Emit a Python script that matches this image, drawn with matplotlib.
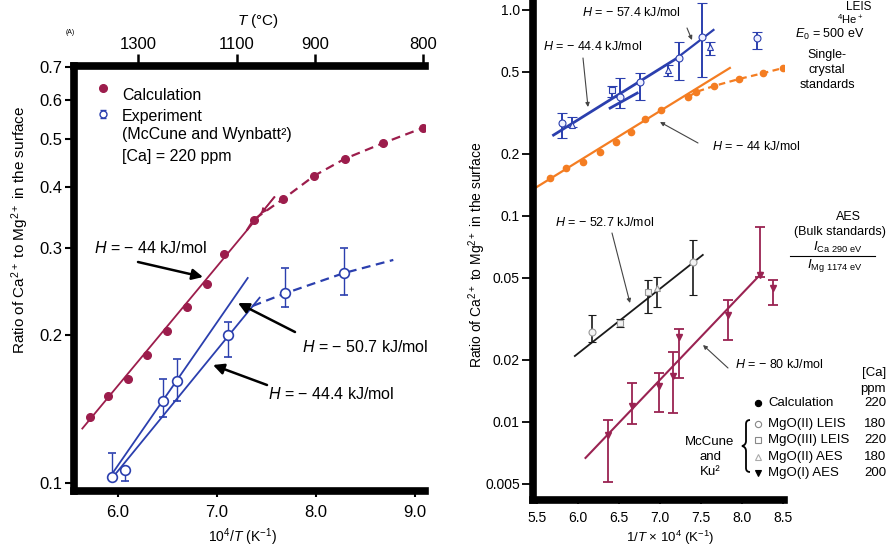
# surface segregation of Ca in MgO: calc vs experiment, two panels

import numpy as np
import matplotlib
matplotlib.use("Agg")
import matplotlib.pyplot as plt
from matplotlib.ticker import NullLocator
from matplotlib.path import Path
from matplotlib.patches import PathPatch

plt.rcParams['font.family'] = ['Liberation Sans', 'DejaVu Sans']
plt.rcParams['mathtext.fontset'] = 'custom'
plt.rcParams['mathtext.rm'] = 'Liberation Sans'
plt.rcParams['mathtext.it'] = 'Liberation Sans:italic'

# ---- panel A (left)
calc_x = [5.72, 5.90, 6.10, 6.29, 6.49, 6.70, 6.90, 7.07, 7.37, 7.67, 7.98, 8.29, 8.68, 9.08]
calc_y = [0.136, 0.150, 0.163, 0.182, 0.204, 0.228, 0.254, 0.292, 0.343, 0.378, 0.421, 0.456, 0.491, 0.527]
calc_fit_x = [5.64, 7.58]
calc_fit_y = [0.129, 0.381]
calc_dash_x = [7.30, 7.37, 7.67, 7.98, 8.29, 8.68, 9.08, 9.12]
calc_dash_y = [0.326, 0.343, 0.378, 0.421, 0.456, 0.491, 0.527, 0.530]

exp_x = [5.94, 6.07, 6.45, 6.60, 7.11, 7.69, 8.28]
exp_y = [0.103, 0.106, 0.147, 0.161, 0.200, 0.243, 0.267]
exp_lo = [0.103, 0.101, 0.136, 0.147, 0.180, 0.228, 0.241]
exp_hi = [0.115, 0.106, 0.163, 0.179, 0.212, 0.274, 0.300]
fit507_x = [5.95, 7.31]
fit507_y = [0.105, 0.261]
fit444_x = [5.97, 7.43]
fit444_y = [0.104, 0.238]
exp_dash_x = [7.36, 7.69, 8.28, 8.78]
exp_dash_y = [0.229, 0.243, 0.267, 0.284]

yA_ticks = [0.1, 0.2, 0.3, 0.4, 0.5, 0.6, 0.7]
yA_labels = ['0.1', '0.2', '0.3', '0.4', '0.5', '0.6', '0.7']
xA_ticks = [6.0, 7.0, 8.0, 9.0]
xA_labels = ['6.0', '7.0', '8.0', '9.0']
tC_pos = [6.20, 7.20, 7.99, 9.08]
tC_labels = ['1300', '1100', '900', '800']

# ---- panel B (right)
orange_x = [5.66, 5.85, 6.06, 6.27, 6.46, 6.65, 6.82, 7.01, 7.34, 7.44, 7.66, 7.96, 8.26, 8.50]
orange_y = [0.153, 0.171, 0.183, 0.205, 0.229, 0.256, 0.296, 0.327, 0.378, 0.400, 0.428, 0.462, 0.494, 0.523]
orange_fit_x = [5.48, 7.85]
orange_fit_y = [0.137, 0.523]
orange_dash_x = [7.34, 7.44, 7.66, 7.96, 8.26, 8.50, 8.53]
orange_dash_y = [0.378, 0.400, 0.428, 0.462, 0.494, 0.523, 0.526]

leis_x = [5.80, 5.93, 6.41, 6.51, 6.76, 7.10, 7.23, 7.51, 7.61, 8.18]
leis_y = [0.283, 0.277, 0.409, 0.378, 0.447, 0.511, 0.585, 0.740, 0.661, 0.731]
leis_lo = [0.239, 0.271, 0.378, 0.334, 0.366, 0.478, 0.457, 0.473, 0.605, 0.647]
leis_hi = [0.316, 0.303, 0.428, 0.468, 0.494, 0.541, 0.700, 1.08, 0.700, 0.782]
leis_mk = ['o', '^', 's', 'o', 'o', '^', 'o', 'o', '^', 'o']
leis444_x = [5.70, 7.21]
leis444_y = [0.247, 0.585]
leis_par_x = [6.39, 6.72]
leis_par_y = [0.334, 0.395]
leis574_x = [7.22, 7.65]
leis574_y = [0.591, 0.80]

bulk_x = [6.17, 6.51, 6.85, 6.96, 7.40]
bulk_y = [0.0273, 0.0303, 0.0428, 0.0447, 0.0598]
bulk_lo = [0.0245, 0.0290, 0.0338, 0.0362, 0.0414]
bulk_hi = [0.0331, 0.0316, 0.0489, 0.0506, 0.0765]
bulk_mk = ['o', 's', 's', '^', 'o']
bulk_fit_x = [5.96, 7.52]
bulk_fit_y = [0.0209, 0.0647]

mgo1_x = [6.37, 6.66, 6.98, 7.16, 7.23, 7.83, 8.22, 8.38]
mgo1_y = [0.00865, 0.0120, 0.0150, 0.0167, 0.0259, 0.0331, 0.0517, 0.0447]
mgo1_lo = [0.00512, 0.00978, 0.0112, 0.0111, 0.0164, 0.0250, 0.0506, 0.0370]
mgo1_hi = [0.0102, 0.0155, 0.0173, 0.0219, 0.0283, 0.0391, 0.0886, 0.0489]
mgo1_fit_x = [6.09, 8.24]
mgo1_fit_y = [0.00669, 0.0529]

yB_ticks = [1.0, 0.5, 0.2, 0.1, 0.05, 0.02, 0.01, 0.005]
yB_labels = ['1.0', '0.5', '0.2', '0.1', '0.05', '0.02', '0.01', '0.005']
xB_ticks = [5.5, 6.0, 6.5, 7.0, 7.5, 8.0, 8.5]
xB_labels = ['5.5', '6.0', '6.5', '7.0', '7.5', '8.0', '8.5']

RED = '#9c1d4c'
BLUE = '#2b3fae'
ORANGE = '#f47d22'
MAROON = '#9a2352'

W, H = 891, 548
fig = plt.figure(figsize=(W / 100, H / 100), dpi=100)


def box(l, t, r, b):
    return [l / W, 1 - b / H, (r - l) / W, (b - t) / H]


def err(y, lo, hi):
    y = np.array(y)
    return [y - np.array(lo), np.array(hi) - y]


axA = fig.add_axes(box(74, 66, 425, 491))
axB = fig.add_axes(box(533, 0, 784, 500))

# left panel
axA.set_yscale('log')
axA.plot(calc_fit_x, calc_fit_y, color=RED, lw=1.3)
axA.plot(calc_dash_x, calc_dash_y, color=RED, lw=1.6, ls=(0, (4, 2.5)))
axA.plot(calc_x, calc_y, 'o', color=RED, ms=5.5)
axA.plot(fit507_x, fit507_y, color=BLUE, lw=1.3)
axA.plot(fit444_x, fit444_y, color=BLUE, lw=1.3)
axA.plot(exp_dash_x, exp_dash_y, color=BLUE, lw=1.6, ls=(0, (4, 2.5)))
axA.errorbar(exp_x, exp_y, yerr=err(exp_y, exp_lo, exp_hi), fmt='o', mfc='white', mec=BLUE,
             ecolor=BLUE, ms=7, mew=1.2, elinewidth=1, capsize=3, clip_on=False)
axA.set_xlim(5.556, 9.10)
axA.set_ylim(0.0963, 0.704)
axA.spines['right'].set_visible(False)
for s in ['left', 'bottom', 'top']:
    axA.spines[s].set_linewidth(5.5)
axA.set_yticks(yA_ticks, labels=yA_labels)
axA.yaxis.set_minor_locator(NullLocator())
axA.set_xticks(xA_ticks, labels=xA_labels)
axA.tick_params(axis='y', length=6.5, width=1.5, pad=2, labelsize=12)
axA.tick_params(axis='x', length=4, width=1.5, pad=6, labelsize=12)
secA = axA.secondary_xaxis('top')
secA.set_xticks(tC_pos, labels=tC_labels)
secA.spines['top'].set_linewidth(0)
secA.tick_params(direction='out', color='black', length=9, width=1.8, pad=1, labelsize=12)

# right panel
axB.set_yscale('log')
axB.plot(orange_fit_x, orange_fit_y, color=ORANGE, lw=1.6)
axB.plot(orange_dash_x, orange_dash_y, color=ORANGE, lw=1.6, ls=(0, (3, 2)))
axB.plot(orange_x, orange_y, 'o', color=ORANGE, ms=4.5)
axB.plot(leis444_x, leis444_y, color=BLUE, lw=2)
axB.plot(leis_par_x, leis_par_y, color=BLUE, lw=2)
axB.plot(leis574_x, leis574_y, color=BLUE, lw=1.6)
for i in range(len(leis_x)):
    axB.errorbar([leis_x[i]], [leis_y[i]], yerr=err([leis_y[i]], [leis_lo[i]], [leis_hi[i]]),
                 fmt=leis_mk[i], mfc='#eef0ff', mec=BLUE, ecolor=BLUE, ms=5, mew=0.8,
                 elinewidth=1.4, capsize=3.5, capthick=1.4)
axB.plot(bulk_fit_x, bulk_fit_y, color='#1a1a1a', lw=1.3)
for i in range(len(bulk_x)):
    axB.errorbar([bulk_x[i]], [bulk_y[i]], yerr=err([bulk_y[i]], [bulk_lo[i]], [bulk_hi[i]]),
                 fmt=bulk_mk[i], mfc='#f2f2f2', mec='#999999', ecolor='#1a1a1a', ms=5, mew=0.8,
                 elinewidth=1.2, capsize=3, capthick=1.2)
axB.plot(mgo1_fit_x, mgo1_fit_y, color=MAROON, lw=1.5)
axB.errorbar(mgo1_x, mgo1_y, yerr=err(mgo1_y, mgo1_lo, mgo1_hi), fmt='v', color=MAROON,
             ms=5, elinewidth=1.3, capsize=3.5, capthick=1.3)
axB.set_xlim(5.45, 8.51)
axB.set_ylim(0.00418, 1.118)
axB.spines['right'].set_visible(False)
axB.spines['top'].set_visible(False)
for s in ['left', 'bottom']:
    axB.spines[s].set_linewidth(5.5)
axB.set_yticks(yB_ticks, labels=yB_labels)
axB.yaxis.set_minor_locator(NullLocator())
axB.set_xticks(xB_ticks, labels=xB_labels)
axB.tick_params(axis='y', length=8, width=1.3, pad=1.5, labelsize=10)
axB.tick_params(axis='x', length=3, width=1.3, pad=5, labelsize=10)

# overlay in pixel coords for text and leaders
ov = fig.add_axes([0, 0, 1, 1], facecolor='none')
ov.set_xlim(0, W)
ov.set_ylim(H, 0)
ov.axis('off')

ov.text(70, 33, '(A)', fontsize=5, ha='center', va='center')
ov.text(258, 21, '$T$ (°C)', fontsize=11, ha='center', va='center')
ov.text(242, 537, '10$^4$/$T$ (K$^{-1}$)', fontsize=10, ha='center', va='center')
ov.text(20, 230, 'Ratio of Ca$^{2+}$ to Mg$^{2+}$ in the surface', fontsize=11,
        rotation=90, ha='center', va='center')
ov.text(670, 538, '1/$T$ × 10$^4$ (K$^{-1}$)', fontsize=9.5, ha='center', va='center')
ov.text(477, 255, 'Ratio of Ca$^{2+}$ to Mg$^{2+}$ in the surface', fontsize=10,
        rotation=90, ha='center', va='center')

# left legend
ov.plot([103], [88], 'o', color=RED, ms=5.5)
ov.errorbar([103], [114], yerr=[[4], [4]], fmt='o', mfc='white', mec=BLUE, ecolor=BLUE,
            ms=5, mew=1, capsize=2.5, elinewidth=1)
ov.text(122, 95, 'Calculation', fontsize=11.5, va='center')
ov.text(122, 117, 'Experiment', fontsize=11.5, va='center')
ov.text(122, 135, '(McCune and Wynbatt²)', fontsize=11.5, va='center')
ov.text(122, 157, '[Ca] = 220 ppm', fontsize=11.5, va='center')

# left annotations
bigarrow = dict(arrowstyle='-|>', color='black', lw=1.8, mutation_scale=16, shrinkA=0, shrinkB=0)
ov.text(94, 248, '$H$ = − 44 kJ/mol', fontsize=11.5, va='center')
ov.annotate('', xy=(203, 277), xytext=(138, 262), arrowprops=bigarrow)
ov.text(302, 347, '$H$ = − 50.7 kJ/mol', fontsize=11.5, va='center')
ov.annotate('', xy=(238, 303), xytext=(295, 332), arrowprops=bigarrow)
ov.text(268, 394, '$H$ = − 44.4 kJ/mol', fontsize=11.5, va='center')
ov.annotate('', xy=(213, 365), xytext=(267, 385), arrowprops=bigarrow)
ov.annotate('', xy=(261, 214), xytext=(274, 197),
            arrowprops=dict(arrowstyle='-|>', color=RED, lw=1, mutation_scale=8, shrinkA=0, shrinkB=0))

# right annotations
thin = dict(arrowstyle='-|>', color='#444444', lw=0.8, mutation_scale=6, shrinkA=0, shrinkB=0)
ov.text(582, 13, '$H$ = − 57.4 kJ/mol', fontsize=9, va='center')
ov.annotate('', xy=(692, 40), xytext=(687, 28), arrowprops=thin)
ov.text(543, 47, '$H$ = − 44.4 kJ/mol', fontsize=9, va='center')
ov.annotate('', xy=(588, 107), xytext=(583, 58), arrowprops=thin)
ov.text(712, 147, '$H$ = − 44 kJ/mol', fontsize=9, va='center')
ov.annotate('', xy=(660, 122), xytext=(698, 143), arrowprops=thin)
ov.text(555, 222, '$H$ = − 52.7 kJ/mol', fontsize=9, va='center')
ov.annotate('', xy=(630, 303), xytext=(612, 233), arrowprops=thin)
ov.text(735, 365, '$H$ = − 80 kJ/mol', fontsize=9, va='center')
ov.annotate('', xy=(703, 345), xytext=(728, 368), arrowprops=thin)

ov.text(859, 7, 'LEIS', fontsize=8.5, ha='center', va='center')
ov.text(850, 19, '$^4$He$^+$', fontsize=8, ha='center', va='center')
ov.text(830, 34, '$E_0$ = 500 eV', fontsize=9, ha='center', va='center')
ov.text(827, 55, 'Single-', fontsize=9, ha='center', va='center')
ov.text(827, 70, 'crystal', fontsize=9, ha='center', va='center')
ov.text(827, 85, 'standards', fontsize=9, ha='center', va='center')

ov.text(848, 217, 'AES', fontsize=9, ha='center', va='center')
ov.text(840, 232, '(Bulk standards)', fontsize=9, ha='center', va='center')
ov.text(838, 247, '$I_{\\mathrm{Ca\\ 290\\ eV}}$', fontsize=9.5, ha='center', va='center')
ov.plot([790, 875], [256, 256], color='black', lw=0.8)
ov.text(835, 265, '$I_{\\mathrm{Mg\\ 1174\\ eV}}$', fontsize=9.5, ha='center', va='center')

# right legend
ov.text(886, 373, '[Ca]', fontsize=9.5, ha='right', va='center')
ov.text(886, 389, 'ppm', fontsize=9.5, ha='right', va='center')
leg_names = ['Calculation', 'MgO(II) LEIS', 'MgO(III) LEIS', 'MgO(II) AES', 'MgO(I) AES']
leg_ppm = ['220', '180', '220', '180', '200']
leg_y = [403, 424, 440, 457, 473]
leg_mk = ['o', 'o', 's', '^', 'v']
leg_fill = ['black', 'white', 'white', 'white', 'black']
leg_edge = ['black', '#888888', '#888888', '#aaaaaa', 'black']
for i in range(5):
    ov.plot([758], [leg_y[i]], leg_mk[i], mfc=leg_fill[i], mec=leg_edge[i], ms=4.5, mew=0.8)
    ov.text(768, leg_y[i], leg_names[i], fontsize=9.5, va='center')
    ov.text(886, leg_y[i], leg_ppm[i], fontsize=9.5, ha='right', va='center')

# curly brace grouping the McCune and Ku rows
bx, bt, bm, bb = 746, 420, 446, 472
brace = Path([(bx + 4, bt), (bx, bt), (bx, bt + 4), (bx, bm - 5), (bx, bm - 1), (bx - 4, bm),
              (bx, bm + 1), (bx, bm + 5), (bx, bb - 4), (bx, bb), (bx + 4, bb)],
             [Path.MOVETO, Path.CURVE3, Path.CURVE3, Path.LINETO, Path.CURVE3, Path.CURVE3,
              Path.CURVE3, Path.CURVE3, Path.LINETO, Path.CURVE3, Path.CURVE3])
ov.add_patch(PathPatch(brace, fill=False, lw=1.3, color='black'))
ov.text(710, 442, 'McCune', fontsize=9.5, ha='center', va='center')
ov.text(710, 457, 'and', fontsize=9.5, ha='center', va='center')
ov.text(710, 472, 'Ku²', fontsize=9.5, ha='center', va='center')

fig.savefig('out.png', dpi=100)
